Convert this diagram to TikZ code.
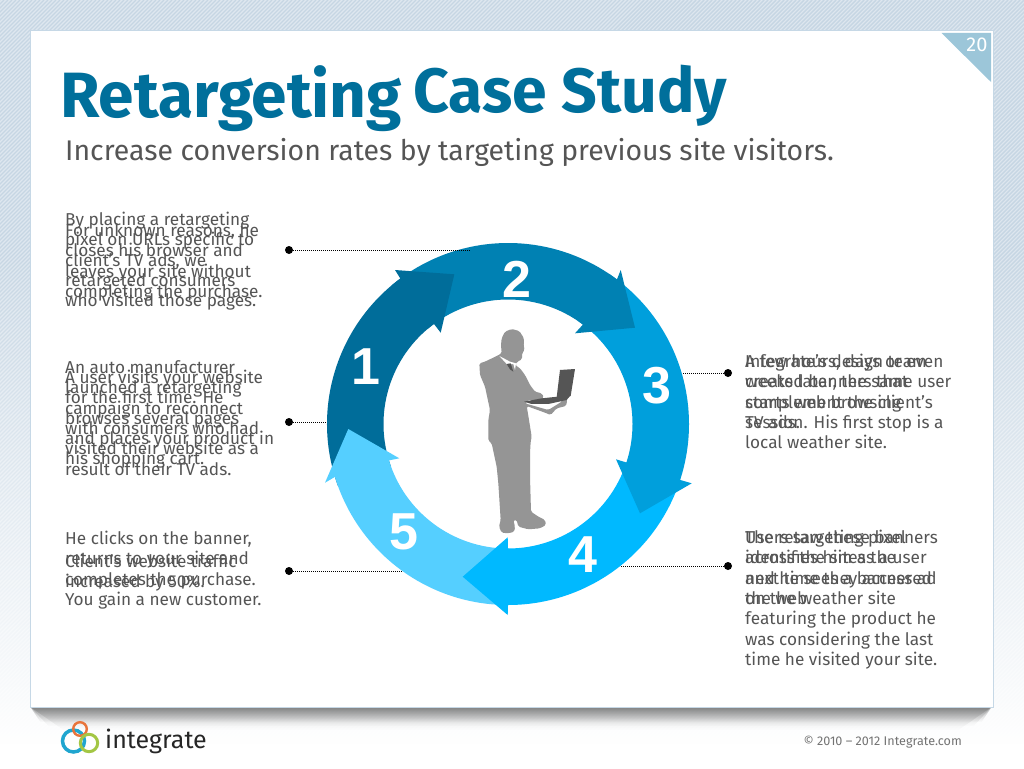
\documentclass[tikz,border=0pt]{standalone}
\usepackage{fontspec}
\setmainfont{Fira Sans}
\newfontfamily\numfont{Liberation Sans}
\usetikzlibrary{fadings}
\definecolor{hatchbg}{HTML}{DEE7EF}
\definecolor{hatchline}{HTML}{C6D6E3}
\definecolor{slideedge}{HTML}{C6D8E6}
\definecolor{corner}{HTML}{9CC6D9}
\definecolor{titleblue}{HTML}{006F9B}
\definecolor{bodygrey}{HTML}{555555}
\definecolor{arrowa}{HTML}{006D9A}
\definecolor{arrowb}{HTML}{0081B3}
\definecolor{arrowc}{HTML}{009FDC}
\definecolor{arrowd}{HTML}{00B9FF}
\definecolor{arrowe}{HTML}{55CFFF}
\definecolor{manfill}{HTML}{959595}
\definecolor{lapfill}{HTML}{555555}
\definecolor{logoblue}{HTML}{1FA5CF}
\definecolor{logoorange}{HTML}{E8743B}
\definecolor{logogreen}{HTML}{A3C644}
\tikzfading[name=bgfade, top color=transparent!100, bottom color=transparent!0]
\tikzfading[name=shadowfade, top color=transparent!0, bottom color=transparent!100]
\tikzset{
  bodytext/.style={anchor=north west, inner sep=0pt, align=left, text=bodygrey,
    font=\fontsize{17.2}{20.4}\selectfont},
  titletext/.style={anchor=base west, inner sep=0pt, text=titleblue},
  leaderdot/.style={circle, fill=black, inner sep=0pt, minimum size=8pt},
  leader/.style={black, line width=0.8pt, dash pattern=on 1pt off 1pt},
  ringnum/.style={inner sep=0pt, text=white, font=\fontsize{52}{52}\selectfont\numfont\bfseries},
}
\newcommand{\ringarrow}[6]{% colour, start, end, outer barb, tip, inner barb
  \fill[#1] (#2:181pt) arc[start angle=#2, end angle=#3, radius=181pt]
    -- (#4) -- (#5) -- (#6) -- (#3:124.5pt)
    arc[start angle=#3, end angle=#2, radius=124.5pt] -- cycle;}
\newcommand{\bs}{\rule{0pt}{15pt}}
\begin{document}
\begin{tikzpicture}[x=1pt,y=-1pt]
\useasboundingbox (0,0) rectangle (1024,768);
% background hatch
\begin{scope}
  \clip (0,0) rectangle (1024,768);
  \fill[hatchbg] (0,0) rectangle (1024,768);
  \foreach \i in {0,4,...,1800} { \draw[hatchline, line width=1.4pt] (\i,0) -- (\i-768,768); }
  \fill[white, path fading=bgfade] (-1,250) rectangle (1025,745);
  \fill[white] (-1,744) rectangle (1025,769);
\end{scope}
% slide
\fill[black, opacity=0.14, path fading=shadowfade] (31,707) -- (993,707) -- (960,730) -- (64,730) -- cycle;
\fill[black, opacity=0.18, path fading=shadowfade] (31,707) -- (993,707) -- (975,726) -- (49,726) -- cycle;
\fill[black, opacity=0.26, path fading=shadowfade] (31,707) -- (993,707) -- (983,722) -- (41,722) -- cycle;
\fill[white, draw=slideedge, line width=0.7pt] (30.5,30.5) rectangle (993.5,707.5);
\fill[corner] (941.5,33) -- (991,33) -- (991,82) -- cycle;
\node[inner sep=0pt, anchor=base, text=white, font=\fontsize{20}{20}\selectfont] (page) at (977,52) {20};
% title
\node[titletext, font=\fontsize{64}{66}\selectfont\bfseries] (t1) at (60,117) {Retargeting};
\node[titletext, font=\fontsize{62.5}{66}\selectfont\bfseries] (t2) at (413,112) {Case Study};
\node[anchor=base west, inner sep=0pt, text=bodygrey, font=\fontsize{28.4}{30}\selectfont] (sub) at (65,160)
  {Increase conversion rates by targeting previous site visitors.};
% ring
\coordinate (c1o) at (395,270); \coordinate (c1t) at (454.3,274.3); \coordinate (c1i) at (440.7,332.7);
\coordinate (c2o) at (620.7,270); \coordinate (c2t) at (635,327.7); \coordinate (c2i) at (575,333.3);
\coordinate (c3o) at (691.7,483.3); \coordinate (c3t) at (640,513.3); \coordinate (c3i) at (616,459.3);
\coordinate (c4o) at (507.7,615); \coordinate (c4t) at (462.7,576.7); \coordinate (c4i) at (507.7,537.3);
\coordinate (c5o) at (325,482.7); \coordinate (c5t) at (348.3,429); \coordinate (c5i) at (399.3,458.3);
\begin{scope}[shift={(508,424)},x=1pt,y=1pt]
  \fill[arrowc] (56:181pt) arc[start angle=56, end angle=0, radius=181pt]
    -- (0:124.5pt) arc[start angle=0, end angle=56, radius=124.5pt] -- cycle;
  \ringarrow{arrowb}{130}{53}{c2o}{c2t}{c2i}
  \ringarrow{arrowa}{200}{126.5}{c1o}{c1t}{c1i}
  \ringarrow{arrowe}{270}{197}{c5o}{c5t}{c5i}
  \ringarrow{arrowd}{342}{270}{c4o}{c4t}{c4i}
  \ringarrow{arrowc}{0}{-18}{c3o}{c3t}{c3i}
\end{scope}
\node[ringnum] (n1) at (366,367) {1};
\node[ringnum] (n2) at (517,279) {2};
\node[ringnum] (n3) at (657,386) {3};
\node[ringnum] (n4) at (583,555) {4};
\node[ringnum] (n5) at (404,532) {5};
% man
\begin{scope}[shift={(460,320)},x=0.3333pt,y=-0.3333pt]
  \fill[manfill, rounded corners=1.6pt] (125,55) -- (135,35) -- (155,27) -- (178,33) -- (192,55) -- (191,78) -- (194,90) -- (186,100)
   -- (186,118) -- (172,125) -- (165,135) -- (180,145) -- (195,165) -- (210,195) -- (225,215) -- (245,220)
   -- (252,232) -- (240,240) -- (205,240) -- (195,250) -- (265,270) -- (305,245) -- (312,222) -- (322,240)
   -- (318,258) -- (290,265) -- (272,285) -- (255,278) -- (200,258) -- (207,300) -- (215,350) -- (212,365)
   -- (210,400) -- (210,470) -- (213,575) -- (235,590) -- (255,600) -- (258,615) -- (240,625) -- (205,628)
   -- (175,620) -- (170,600) -- (160,600) -- (165,620) -- (163,635) -- (145,640) -- (125,638) -- (117,620)
   -- (122,600) -- (115,490) -- (110,440) -- (95,370) -- (85,362) -- (85,300) -- (90,270) -- (75,200)
   -- (60,165) -- (58,130) -- (75,125) -- (110,108) -- (125,100) -- (123,75) -- cycle;
  \fill[white] (118,108) -- (140,132) -- (160,132) -- (165,150) -- (168,130) -- (150,125) -- cycle;
  \fill[lapfill] (140,132) -- (152,130) -- (160,155) -- (150,148) -- cycle;
  \fill[lapfill] (300,150) -- (345,147) -- (332,228) -- (290,232) -- cycle;
  \fill[lapfill] (192,245) -- (245,235) -- (332,226) -- (320,240) -- (265,252) -- (215,252) -- cycle;
\end{scope}
% connectors
\node[leaderdot] (d1) at (289,250) {};
\node[leaderdot] (d2) at (289,422) {};
\node[leaderdot] (d3) at (289,571) {};
\node[leaderdot] (d4) at (728,373) {};
\node[leaderdot] (d5) at (728,566) {};
\coordinate (e1) at (470,250);
\coordinate (e2) at (327,422);
\coordinate (e3) at (403,571);
\coordinate (e4) at (682,373);
\coordinate (e5) at (621,566);
\draw[leader] (d1) -- (e1);
\draw[leader] (d2) -- (e2);
\draw[leader] (d3) -- (e3);
\draw[leader] (d4) -- (e4);
\draw[leader] (d5) -- (e5);
% body text
\node[bodytext] (a1) at (65,210) {\bs By placing a retargeting\\ pixel on URLs specific to\\ client’s TV ads, we\\ retargeted consumers\\ who visited those pages.};
\node[bodytext] (b1) at (65,221) {\bs For unknown reasons, he\\ closes his browser and\\ leaves your site without\\ completing the purchase.};
\node[bodytext] (a2) at (65,358) {\bs An auto manufacturer\\ launched a retargeting\\ campaign to reconnect\\ with consumers who had\\ visited their website as a\\ result of their TV ads.};
\node[bodytext] (b2) at (65,368) {\bs A user visits your website\\ for the first time. He\\ browses several pages\\ and places your product in\\ his shopping cart.};
\node[bodytext] (a3) at (65,529) {\bs He clicks on the banner,\\ returns to your site and\\ completes the purchase.\\ You gain a new customer.};
\node[bodytext] (b3) at (65,552) {\bs Client’s website traffic\\ increased by 50\%.};
\node[bodytext] (a4) at (745,352) {\bs A few hours, days or even\\ weeks later, the same user\\ starts web browsing\\ session. His first stop is a\\ local weather site.};
\node[bodytext] (b4) at (745,352) {\bs Integrate’s design team\\ created banners that\\ complement the client’s\\ TV ads.};
\node[bodytext] (a5) at (745,528) {\bs The retargeting pixel\\ identifies him as a user\\ and he sees a banner ad\\ on the weather site\\ featuring the product he\\ was considering the last\\ time he visited your site.};
\node[bodytext] (b5) at (745,528) {\bs Users saw these banners\\ across the sites the\\ next time they accessed\\ the web.};
% footer
\draw[logoblue, line width=3.5pt] (73.5,741) circle[radius=11pt];
\draw[logoorange, line width=2.4pt] (80,729) circle[radius=6.8pt];
\draw[logogreen, line width=3pt] (89,743) circle[radius=8.7pt];
\node[anchor=base west, inner sep=0pt, text=black!85, font=\fontsize{25}{30}\selectfont] (logo) at (105,748) {integrate};
\node[anchor=base east, inner sep=0pt, text=black!55, font=\fontsize{12.6}{14}\selectfont] (copy) at (962,745.5) {© 2010 – 2012 Integrate.com};
\end{tikzpicture}
\end{document}
